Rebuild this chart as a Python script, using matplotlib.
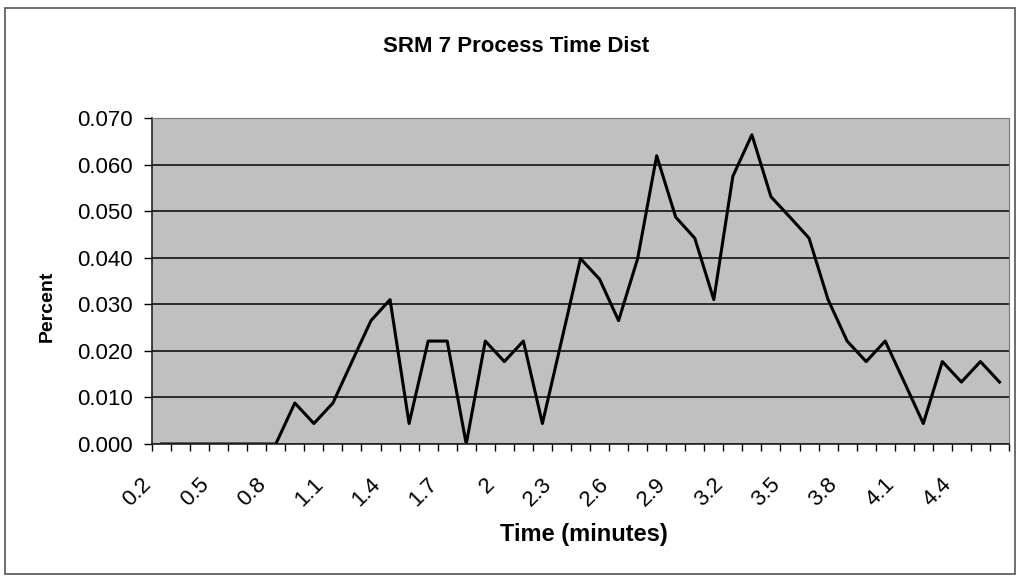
import numpy as np
import matplotlib.pyplot as plt
from matplotlib.patches import Rectangle
from matplotlib.transforms import ScaledTranslation

plt.rcParams['font.family'] = ['Liberation Sans', 'DejaVu Sans']

# time categories (minutes) and fraction of parts
times = [round(0.2 + 0.1 * i, 1) for i in range(45)]
percent = [0, 0, 0, 0, 0, 0, 0, 0.0088, 0.0044, 0.0088,
           0.0177, 0.0265, 0.0310, 0.0044, 0.0221, 0.0221, 0, 0.0221, 0.0177, 0.0221,
           0.0044, 0.0221, 0.0398, 0.0354, 0.0265, 0.0398, 0.0619, 0.0487, 0.0442, 0.0310,
           0.0575, 0.0664, 0.0531, 0.0487, 0.0442, 0.0310, 0.0221, 0.0177, 0.0221, 0.0133,
           0.0044, 0.0177, 0.0133, 0.0177, 0.0133]
yticks = [0.0, 0.01, 0.02, 0.03, 0.04, 0.05, 0.06, 0.07]

fig = plt.figure(figsize=(10.19, 5.76), dpi=100)
fig.patches.append(Rectangle((5 / 1019, 2 / 576), 1010 / 1019, 566 / 576,
                             transform=fig.transFigure, fill=False,
                             edgecolor='#555555', linewidth=1.2))

ax = fig.add_axes([152 / 1019, 132 / 576, 857 / 1019, 326 / 576])
ax.set_facecolor('#c0c0c0')

x = np.arange(len(times))
ax.plot(x, percent, color='black', linewidth=2.2)

ax.set_xlim(-0.5, len(times) - 0.5)
ax.set_ylim(0, 0.07)
ax.set_yticks(yticks)
ax.set_yticklabels(['%.3f' % v for v in yticks], fontsize=16)
ax.yaxis.grid(True, color='#2a2a2a', linewidth=1.4)
ax.set_axisbelow(True)

lab_idx = list(range(0, len(times), 3))
ax.set_xticks(lab_idx)
ax.set_xticklabels([('%g' % times[i]) for i in lab_idx], rotation=45,
                   ha='right', va='center', rotation_mode='anchor', fontsize=16)
ax.set_xticks(np.arange(-0.5, len(times), 1), minor=True)
ax.tick_params(axis='x', which='major', length=0, pad=27)
ax.tick_params(axis='x', which='minor', length=5, width=1, direction='out')
ax.tick_params(axis='y', length=6, width=1, direction='out', pad=8)

# nudge the rotated labels left so they sit under their ticks like Excel does
shift = ScaledTranslation(-13 / 100, 0, fig.dpi_scale_trans)
for tick in ax.xaxis.get_major_ticks():
    tick.label1.set_transform(tick.label1.get_transform() + shift)

for s in ['top', 'right']:
    ax.spines[s].set_color('#777777')
for s in ['left', 'bottom']:
    ax.spines[s].set_color('#222222')
    ax.spines[s].set_linewidth(1.2)

ax.set_ylabel('Percent', fontsize=14, fontweight='bold', va='center')
ax.yaxis.set_label_coords((47 - 152) / 857, (444 - 306) / 326)
ax.set_xlabel('Time (minutes)', fontsize=17, fontweight='bold', va='center')
ax.xaxis.set_label_coords((584 - 152) / 857, (444 - 535) / 326)
fig.text(516 / 1019, 1 - 46 / 576, 'SRM 7 Process Time Dist', ha='center', va='center',
         fontsize=16, fontweight='bold')

fig.savefig('out.png', dpi=100)
